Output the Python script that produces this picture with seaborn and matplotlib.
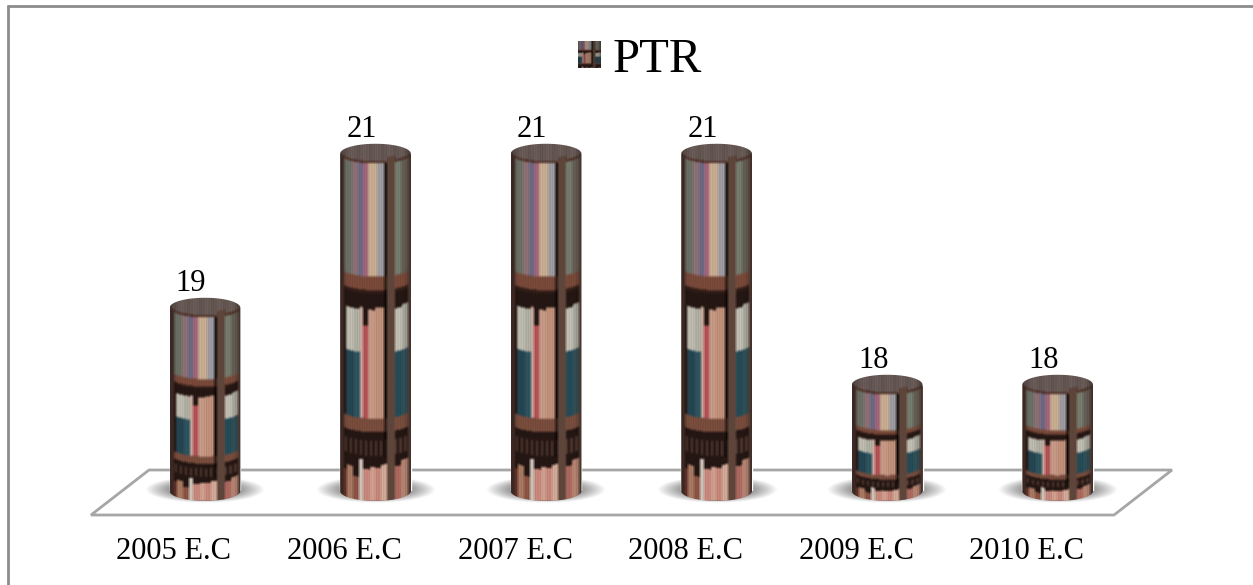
import numpy as np
import seaborn as sns
import matplotlib.pyplot as plt
from matplotlib.patches import Polygon, PathPatch
from matplotlib.path import Path
from matplotlib.lines import Line2D
from matplotlib.transforms import ScaledTranslation

years = ['2005 E.C', '2006 E.C', '2007 E.C', '2008 E.C', '2009 E.C', '2010 E.C']
ptr = [19, 21, 21, 21, 18, 18]
series_name = 'PTR'

# book colours for the bar picture: (u from, u to, top of book, colour, split, lower colour)
shelf_1 = [(.06, .17, 0, '#7b8074', 1, '#7b8074'), (.17, .25, 0, '#a08186', 1, '#a08186'),
           (.25, .33, 0, '#7c7896', 1, '#7c7896'), (.33, .39, 0, '#b9758d', 1, '#b9758d'),
           (.39, .52, 0, '#e6c6a6', 1, '#e6c6a6'), (.52, .64, 0, '#b5b2b8', 1, '#b5b2b8'),
           (.77, .86, 0, '#868e7e', 1, '#868e7e'), (.86, .96, 0, '#756d62', 1, '#756d62')]
shelf_2 = [(.08, .20, .04, '#d9d6c8', .42, '#2a4f5e'), (.20, .28, .04, '#c9c8ba', .42, '#35606d'),
           (.28, .33, .02, '#e6c2b4', 1, '#e6c2b4'), (.33, .40, .18, '#cf5c62', 1, '#cf5c62'),
           (.40, .50, .04, '#e3b09a', 1, '#e3b09a'), (.50, .62, .02, '#dca58c', 1, '#dca58c'),
           (.77, .87, .04, '#dcd9cc', .42, '#2a5663'), (.87, .96, .02, '#c3c2b6', .42, '#3b5c64')]
shelf_3 = [(.05, .10, .35, '#7c3f34', 1, '#7c3f34'), (.10, .18, .25, '#c08a70', 1, '#c08a70'),
           (.18, .27, .45, '#a0604e', 1, '#a0604e'), (.27, .33, .08, '#eadfd3', 1, '#eadfd3'),
           (.33, .42, .28, '#e59c8f', 1, '#e59c8f'), (.42, .50, .22, '#eeb7a4', 1, '#eeb7a4'),
           (.50, .58, .25, '#e39a8c', 1, '#e39a8c'), (.58, .66, .18, '#f0c2ae', 1, '#f0c2ae'),
           (.77, .86, .25, '#c5776d', 1, '#c5776d'), (.86, .96, .15, '#d39a85', 1, '#d39a85')]

sns.set_style('white')
plt.rcParams['font.family'] = ['Liberation Serif', 'DejaVu Serif']

W, H = 1253, 585
fig = plt.figure(figsize=(W / 100, H / 100), dpi=100, facecolor='white')


def px(x, y):
    return (x / W, 1 - y / H)


# plot area: baseline at y=491, one value unit is 77 px
ax = fig.add_axes([119.7 / W, 1 - 491 / H, 1023.3 / W, 391 / H])
ax.patch.set_visible(False)
sns.despine(ax=ax, left=True, bottom=True)
sns.barplot(x=years, y=ptr, color='#4a3028', width=0.415, ax=ax, zorder=2)

y_low, unit = 16.62, 77.0
ylim = (y_low, y_low + 391 / unit)
ax.set_ylim(ylim)
xlim = ax.get_xlim()


def to_rgb(c):
    return np.array([int(c[i:i + 2], 16) for i in (1, 3, 5)]) / 255


def book_picture(w, h, cap=10):
    # cylinder picture, shelves bend down in the middle like the real bars
    yy, xx = np.mgrid[0:h + 2 * cap, 0:w]
    u = (xx + .5) / w
    bend = np.sqrt(np.clip(1 - (2 * u - 1) ** 2, 0, 1))
    r = yy - cap - cap * bend
    f = r / h
    img = np.zeros((h + 2 * cap, w, 3)) + to_rgb('#2a1a16')

    zones = [(0, .335, shelf_1), (.42, .755, shelf_2), (.865, 1.01, shelf_3)]
    for z0, z1, books in zones:
        v = (f - z0) / (z1 - z0)
        in_zone = (f >= z0) & (f < z1)
        for a, b, top, col, split, col2 in books:
            m = in_zone & (u >= a) & (u < b) & (v >= top)
            img[m & (v < split)] = to_rgb(col)
            img[m & (v >= split)] = to_rgb(col2)

    # wooden shelves
    img[(f >= .335) & (f < .375)] = to_rgb('#8a5442')
    img[(f >= .755) & (f < .795)] = to_rgb('#8a5846')
    img[(f >= .375) & (f < .385)] = to_rgb('#3a221c')
    # brown stripes behind the low books
    low = (f >= .82) & (f < .865) & (np.sin(u * 90) > 0)
    img[low] = to_rgb('#5c4036')

    # cap on top, thin radial stripes
    top = r < 0
    stripes = .5 + .5 * np.sin(u * 150)
    img[top] = (to_rgb('#3e2c28')[None, :] * (1 - stripes[top])[:, None]
                + to_rgb('#ac9e98')[None, :] * stripes[top][:, None])
    ring = (r < 0) & (r > -2.5)
    img[ring] = to_rgb('#5e3c32')

    # fine lines along the books, dark edges and the post
    img = img * (.86 + .14 * np.sin(u * 260))[:, :, None]
    post = (u >= .66) & (u < .77) & (r > -cap * .6)
    img[post] = to_rgb('#5e453b')
    img[(u >= .62) & (u < .66) & (r >= 0) & (f < .87)] *= .4
    img[(u < .06) & (r >= 0)] = to_rgb('#4c332c')
    img[(u >= .96) & (r >= 0)] = to_rgb('#5d443c')
    shade = .72 + .28 * np.clip(np.sin(np.pi * u) * 3, 0, 1)
    img = img * shade[:, :, None]

    # soften, the source is a blurry jpeg
    for axis in (0, 1):
        img = (np.roll(img, 1, axis) + img + np.roll(img, -1, axis)) / 3
    return np.clip(img, 0, 1)


# floor of the 3D chart
ax.add_patch(Polygon([px(91, 515), px(149, 470), px(1172, 470), px(1114, 515)], closed=True,
                     facecolor='white', edgecolor='#a6a6a6', lw=2, transform=fig.transFigure,
                     clip_on=False, zorder=0))

band_px = 1023.3 / len(years)
cap_px = 10
cap = cap_px / unit
bars = [p for p in ax.patches if isinstance(p, plt.Rectangle)]
bars = sorted(bars, key=lambda p: p.get_x())[:len(ptr)]

# shadow under each bar, soft and grey
sx, sy = np.meshgrid(np.linspace(-1, 1, 160), np.linspace(-1, 1, 60))
shadow = np.zeros((60, 160, 4))
shadow[..., :3] = .42
shadow[..., 3] = np.clip(1.4 - 1.4 * (sx ** 2 + sy ** 2) ** .7, 0, 1) * .95

for bar, val in zip(bars, ptr):
    x0, bw = bar.get_x(), bar.get_width()
    mid = x0 + bw / 2
    sh_w = 60 / band_px
    ax.imshow(shadow, extent=[mid - sh_w, mid + sh_w, y_low - 12 / unit, y_low + 14 / unit],
              aspect='auto', zorder=1, clip_on=False)

    t = np.linspace(0, np.pi, 40)
    top_x = mid - bw / 2 * np.cos(t)
    outline = list(zip(top_x, val + cap * np.sin(t))) + list(zip(top_x[::-1], y_low - cap * np.sin(t[::-1])))
    body_h = int(round((val - y_low) * unit))
    im = ax.imshow(book_picture(int(round(bw * band_px)), body_h, cap_px),
                   extent=[x0, x0 + bw, y_low - cap, val + cap], aspect='auto',
                   interpolation='bilinear', zorder=3)
    im.set_clip_box(fig.bbox)
    im.set_clip_path(PathPatch(Path(outline + [outline[0]]), transform=ax.transData))

ax.set_xlim(xlim)
ax.set_ylim(ylim)

# labels sit left of the bars in the source (offsets in points)
for cont in ax.containers:
    for lab in ax.bar_label(cont, padding=7, fontsize=22, color='black', zorder=5):
        lab.xyann = (-10, 7)

ax.set_yticks([])
ax.set_xlabel('')
ax.tick_params(axis='x', length=0, pad=33, labelsize=22, labelcolor='black')
tick_shift = ScaledTranslation(-31 / 100, 0, fig.dpi_scale_trans)
for lab in ax.get_xticklabels():
    lab.set_transform(lab.get_transform() + tick_shift)

# legend on top, the key is a tiny copy of the bar picture
leg_handle = plt.Rectangle((0, 0), 1, 1, facecolor='#4a3028', label=series_name)
leg = fig.legend(handles=[leg_handle], loc='center', bbox_to_anchor=px(640, 60), frameon=False,
                 fontsize=35, handlelength=.47, handleheight=.47, handletextpad=.25, labelcolor='black')
fig.canvas.draw()
kb = leg.get_patches()[0].get_window_extent()
key_ax = fig.add_axes([kb.x0 / W, kb.y0 / H, kb.width / W, kb.height / H], zorder=20)
key_ax.imshow(book_picture(60, 60, 0)[5:55, 8:58] * .8, aspect='auto', interpolation='bilinear')
key_ax.axis('off')

# outer frame, bottom and right edges are cut off in the source
for a, b in [((8, 585), (8, 6)), ((8, 6), (1253, 6))]:
    fig.add_artist(Line2D(*zip(px(*a), px(*b)), color='#8c8c8c', lw=2, transform=fig.transFigure))

fig.savefig('out.png', dpi=100)
